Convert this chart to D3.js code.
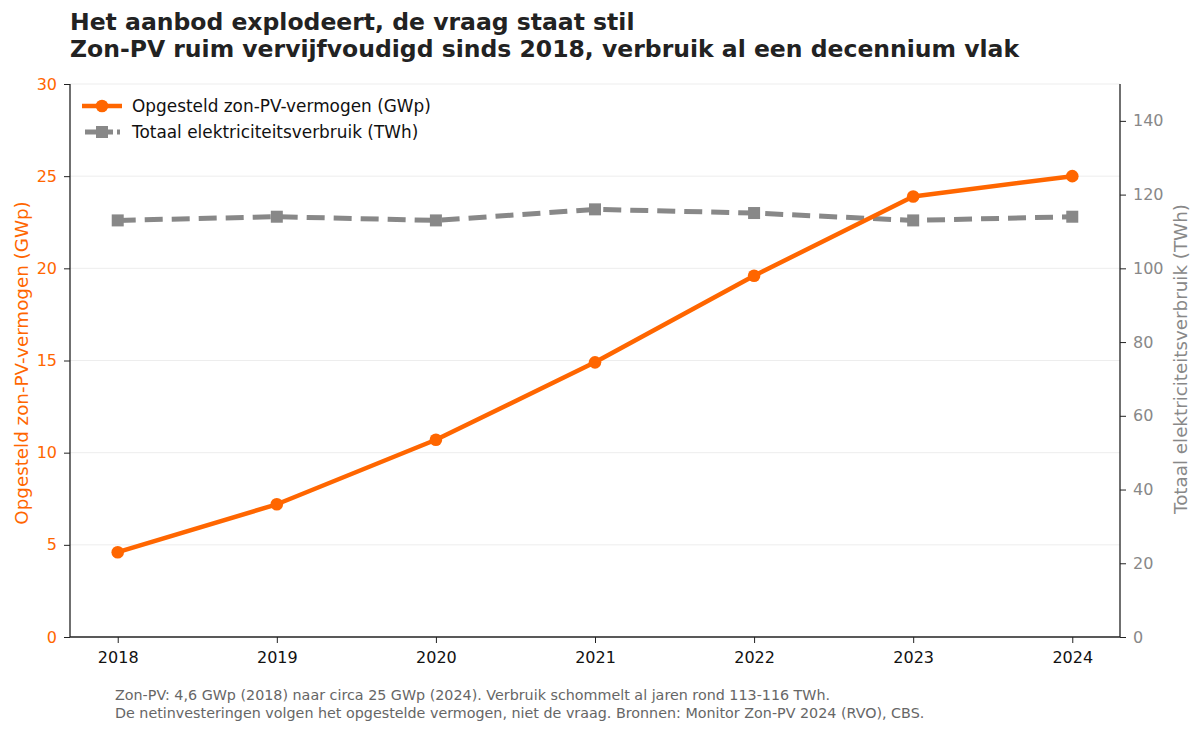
<!DOCTYPE html>
<html lang="nl">
<head>
<meta charset="UTF-8">
<title>Zon-PV en elektriciteitsverbruik</title>
<style>
  body { margin: 0; background: #fff; font-family: "DejaVu Sans", sans-serif; }
  svg text { font-family: "DejaVu Sans", sans-serif; }
</style>
<script src="https://d3js.org/d3.v7.min.js"></script>
</head>
<body>
<div id="chart"></div>
<script>
const years = [2018, 2019, 2020, 2021, 2022, 2023, 2024];
const pvCapacity = [4.6, 7.2, 10.7, 14.9, 19.6, 23.9, 25.0];   // GWp
const consumption = [113, 114, 113, 116, 115, 113, 114];      // TWh
const leftTicks = [0, 5, 10, 15, 20, 25, 30];
const rightTicks = [0, 20, 40, 60, 80, 100, 120, 140];

const width = 1200, height = 733;
const margin = {top: 84, right: 80, bottom: 96, left: 70};
const orange = "#ff6600", grey = "#888888";

const svg = d3.select("#chart").append("svg")
    .attr("width", width)
    .attr("height", height);

const x = d3.scaleLinear()
    .domain([years[0] - 0.3, years[years.length - 1] + 0.3])
    .range([margin.left, width - margin.right]);
const yL = d3.scaleLinear().domain([0, 30]).range([height - margin.bottom, margin.top]);
const yR = d3.scaleLinear().domain([0, 150]).range([height - margin.bottom, margin.top]);

// grid
svg.append("g")
  .selectAll("line")
  .data(leftTicks.slice(1))
  .join("line")
    .attr("x1", margin.left).attr("x2", width - margin.right)
    .attr("y1", d => yL(d)).attr("y2", d => yL(d))
    .attr("stroke", "#e8e8e8").attr("stroke-width", 0.8);

// axes
const axisB = svg.append("g")
    .attr("transform", `translate(0,${height - margin.bottom})`)
    .call(d3.axisBottom(x).tickValues(years).tickFormat(d3.format("d")).tickSize(6).tickPadding(9));
const axisL = svg.append("g")
    .attr("transform", `translate(${margin.left},0)`)
    .call(d3.axisLeft(yL).tickValues(leftTicks).tickSize(6).tickPadding(7));
const axisR = svg.append("g")
    .attr("transform", `translate(${width - margin.right},0)`)
    .call(d3.axisRight(yR).tickValues(rightTicks).tickSize(6).tickPadding(7));

[axisB, axisL, axisR].forEach(a => {
  a.attr("font-family", null).attr("font-size", null);
  a.select(".domain").attr("stroke", "#222").attr("stroke-width", 1.3)
    .attr("d", a === axisB
      ? `M${margin.left},0H${width - margin.right}`
      : `M0,${height - margin.bottom}V${margin.top}`);
  a.selectAll(".tick line").attr("stroke", "#222").attr("stroke-width", 1);
  a.selectAll(".tick text").style("font-size", "16px");
});
axisB.selectAll(".tick text").attr("fill", "#111");
axisL.selectAll(".tick text").attr("fill", orange);
axisR.selectAll(".tick text").attr("fill", grey);

// axis titles
svg.append("text")
    .attr("transform", "translate(28,363) rotate(-90)")
    .attr("text-anchor", "middle")
    .attr("fill", orange)
    .style("font-size", "18.3px")
    .text("Opgesteld zon-PV-vermogen (GWp)");
svg.append("text")
    .attr("transform", "translate(1187,359) rotate(-90)")
    .attr("text-anchor", "middle")
    .attr("fill", grey)
    .style("font-size", "18.3px")
    .text("Totaal elektriciteitsverbruik (TWh)");

// consumption line
const lineR = d3.line().x((d, i) => x(years[i])).y(d => yR(d));
svg.append("path")
    .datum(consumption)
    .attr("d", lineR)
    .attr("fill", "none")
    .attr("stroke", grey)
    .attr("stroke-width", 5)
    .attr("stroke-dasharray", "18,9");
svg.append("g")
  .selectAll("rect")
  .data(consumption)
  .join("rect")
    .attr("x", (d, i) => x(years[i]) - 6)
    .attr("y", d => yR(d) - 6)
    .attr("width", 12).attr("height", 12)
    .attr("fill", grey);

// PV line
const lineL = d3.line().x((d, i) => x(years[i])).y(d => yL(d));
svg.append("path")
    .datum(pvCapacity)
    .attr("d", lineL)
    .attr("fill", "none")
    .attr("stroke", orange)
    .attr("stroke-width", 4.5)
    .attr("stroke-linejoin", "round");
svg.append("g")
  .selectAll("circle")
  .data(pvCapacity)
  .join("circle")
    .attr("cx", (d, i) => x(years[i]))
    .attr("cy", d => yL(d))
    .attr("r", 6.3)
    .attr("fill", orange);

// legend
const legend = svg.append("g").attr("transform", "translate(82,106)");
legend.append("line").attr("x1", 0).attr("x2", 40).attr("y1", 0).attr("y2", 0)
    .attr("stroke", orange).attr("stroke-width", 4.5);
legend.append("circle").attr("cx", 20).attr("cy", 0).attr("r", 6.3).attr("fill", orange);
legend.append("line").attr("x1", 3).attr("x2", 38).attr("y1", 26).attr("y2", 26)
    .attr("stroke", grey).attr("stroke-width", 5).attr("stroke-dasharray", "12,4");
legend.append("rect").attr("x", 14).attr("y", 20).attr("width", 12).attr("height", 12).attr("fill", grey);
legend.append("text").attr("x", 50).attr("y", 6).style("font-size", "16.9px").attr("fill", "#111")
    .text("Opgesteld zon-PV-vermogen (GWp)");
legend.append("text").attr("x", 50).attr("y", 32).style("font-size", "16.9px").attr("fill", "#111")
    .text("Totaal elektriciteitsverbruik (TWh)");

// title
svg.append("text").attr("x", 70).attr("y", 30)
    .style("font-size", "23.5px").style("font-weight", "bold").attr("fill", "#222")
    .text("Het aanbod explodeert, de vraag staat stil");
svg.append("text").attr("x", 70).attr("y", 57)
    .style("font-size", "23.5px").style("font-weight", "bold").attr("fill", "#222")
    .text("Zon-PV ruim vervijfvoudigd sinds 2018, verbruik al een decennium vlak");

// caption
svg.append("text").attr("x", 115).attr("y", 700)
    .style("font-size", "14.3px").attr("fill", "#666")
    .text("Zon-PV: 4,6 GWp (2018) naar circa 25 GWp (2024). Verbruik schommelt al jaren rond 113-116 TWh.");
svg.append("text").attr("x", 115).attr("y", 718)
    .style("font-size", "14.3px").attr("fill", "#666")
    .text("De netinvesteringen volgen het opgestelde vermogen, niet de vraag. Bronnen: Monitor Zon-PV 2024 (RVO), CBS.");
</script>
</body>
</html>
